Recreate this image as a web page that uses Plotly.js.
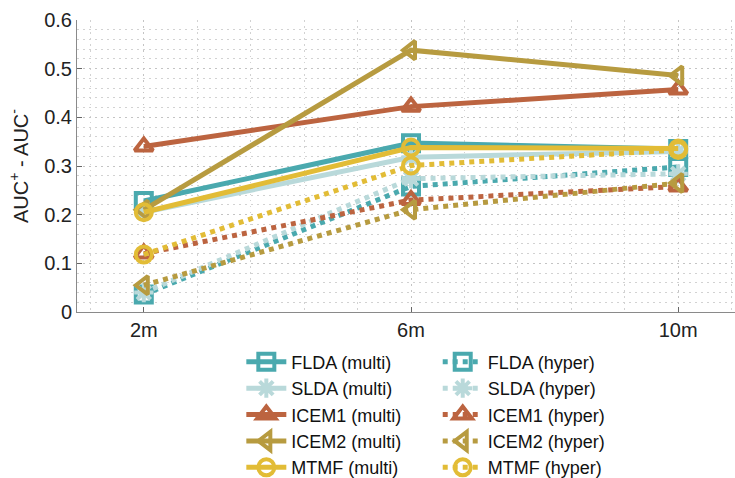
<!DOCTYPE html>
<html>
<head>
<meta charset="utf-8">
<script src="https://cdn.plot.ly/plotly-3.0.1.min.js"></script>
<style>
  html, body { margin: 0; padding: 0; background: #fff; width: 735px; height: 478px; overflow: hidden; }
  #chart { width: 745px; height: 478px; }
</style>
</head>
<body>
<div id="chart"></div>
<script>
// Distance categories (x positions 1..3)
const distances = ['2m', '6m', '10m'];
const xPos = [1, 2, 3];

// AUC+ - AUC- per method, multispectral input
const fldaMulti  = [0.228, 0.347, 0.335];
const sldaMulti  = [0.205, 0.318, 0.330];
const icem1Multi = [0.340, 0.422, 0.457];
const icem2Multi = [0.210, 0.538, 0.486];
const mtmfMulti  = [0.205, 0.338, 0.336];

// AUC+ - AUC- per method, hyperspectral input
const fldaHyper  = [0.036, 0.258, 0.298];
const sldaHyper  = [0.040, 0.274, 0.284];
const icem1Hyper = [0.120, 0.230, 0.258];
const icem2Hyper = [0.055, 0.210, 0.265];
const mtmfHyper  = [0.118, 0.301, 0.333];

const methods = ['FLDA', 'SLDA', 'ICEM1', 'ICEM2', 'MTMF'];
const colors  = ['#4AA9AE', '#B9D9DA', '#BC6440', '#B79B40', '#E2BC36'];
const symbols = ['square-open', 'asterisk-open', 'triangle-up-open', 'triangle-left-open', 'circle-open'];
const multiSeries = [fldaMulti, sldaMulti, icem1Multi, icem2Multi, mtmfMulti];
const hyperSeries = [fldaHyper, sldaHyper, icem1Hyper, icem2Hyper, mtmfHyper];

// Solid lines for multispectral (left legend column), dotted for hyperspectral (right column)
function makeTrace(i, ys, kind) {
  const dotted = kind === 'hyper';
  return {
    type: 'scatter',
    mode: 'lines+markers',
    x: xPos,
    y: ys,
    name: methods[i] + ' (' + kind + ')',
    legend: dotted ? 'legend2' : 'legend',
    line: { color: colors[i], width: 5, dash: dotted ? 'dot' : 'solid' },
    marker: {
      symbol: symbols[i],
      size: 16,
      color: colors[i],
      line: { color: colors[i], width: 4 }
    },
    hoverinfo: 'skip'
  };
}

const traces = [];
multiSeries.forEach((ys, i) => traces.push(makeTrace(i, ys, 'multi')));
hyperSeries.forEach((ys, i) => traces.push(makeTrace(i, ys, 'hyper')));

const gridDash = '1.5px,4.5px';
const legendBase = {
  orientation: 'v',
  traceorder: 'normal',
  xanchor: 'left',
  y: -0.108,
  yanchor: 'top',
  itemwidth: 40,
  font: { size: 18, color: '#111' },
  bgcolor: 'rgba(0,0,0,0)',
  borderwidth: 0
};

const layout = {
  width: 745,
  height: 478,
  margin: { l: 77, r: 0, t: 20, b: 166, autoexpand: false },
  paper_bgcolor: '#ffffff',
  plot_bgcolor: '#ffffff',
  font: { family: '"Liberation Sans", Arial, sans-serif', size: 20, color: '#222' },
  showlegend: true,
  legend: Object.assign({}, legendBase, { x: 0.246 }),
  legend2: Object.assign({}, legendBase, { x: 0.540 }),
  xaxis: {
    range: [0.75, 3.25],
    tickmode: 'array',
    tickvals: xPos,
    ticktext: distances,
    ticks: 'inside',
    ticklen: 5,
    tickcolor: '#666',
    showline: true,
    linecolor: '#8a8a8a',
    linewidth: 1,
    showgrid: true,
    gridcolor: '#c4c4c4',
    griddash: gridDash,
    zeroline: false,
    minor: { dtick: 0.2, tick0: 0, showgrid: true, gridcolor: '#d2d2d2', griddash: gridDash },
    tickfont: { size: 20, color: '#222' },
    fixedrange: true
  },
  yaxis: {
    range: [0, 0.6],
    dtick: 0.1,
    ticks: 'inside',
    ticklen: 5,
    tickcolor: '#666',
    showline: true,
    linecolor: '#8a8a8a',
    linewidth: 1,
    showgrid: true,
    gridcolor: '#c4c4c4',
    griddash: gridDash,
    zeroline: false,
    minor: { dtick: 0.02, showgrid: true, gridcolor: '#d2d2d2', griddash: gridDash },
    tickfont: { size: 20, color: '#222' },
    title: { text: 'AUC<sup>+</sup> - AUC<sup>-</sup>', font: { size: 20, color: '#222' }, standoff: 10 },
    fixedrange: true
  }
};

Plotly.newPlot('chart', traces, layout, { displayModeBar: false, staticPlot: true });
</script>
</body>
</html>
